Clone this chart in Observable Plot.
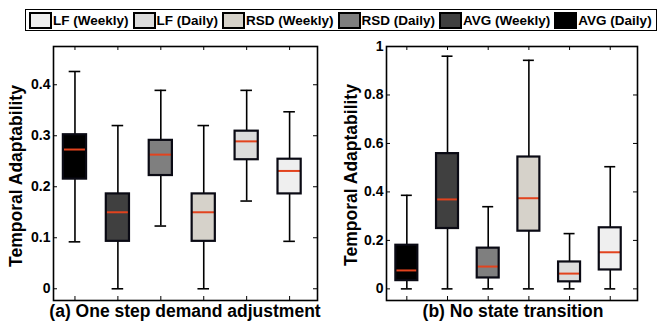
<!DOCTYPE html>
<html>
<head>
<meta charset="utf-8">
<script src="https://cdn.jsdelivr.net/npm/d3@7"></script>
<script src="https://cdn.jsdelivr.net/npm/@observablehq/plot@0.6"></script>
<style>
  html, body { margin: 0; padding: 0; background: #fff; }
  body { width: 658px; height: 324px; position: relative; overflow: hidden;
         font-family: "Liberation Sans", Arial, sans-serif; font-weight: bold; color: #000; }
  .abs { position: absolute; }
  #legend { left: 25px; top: 9px; width: 627px; height: 20px; border: 1.5px solid #000;
            display: flex; align-items: center; padding-left: 3px; background: #fff; box-sizing: content-box; }
  .sw { width: 19px; height: 13px; border: 2px solid #000; margin-right: 1px; }
  .lt { font-size: 13.5px; margin-right: 4px; white-space: nowrap; }
  .ylab { font-size: 17.5px; white-space: nowrap; transform: translate(-50%, -50%) rotate(-90deg); line-height: 1; }
  .sub { font-size: 17.5px; white-space: nowrap; transform: translateX(-50%); line-height: 1; }
</style>
</head>
<body>
<div id="legend" class="abs"></div>
<div id="left" class="abs" style="left:0;top:0"></div>
<div id="right" class="abs" style="left:330px;top:0"></div>
<script>
// ---- data ----
const legendLabels = ["LF (Weekly)", "LF (Daily)", "RSD (Weekly)", "RSD (Daily)", "AVG (Weekly)", "AVG (Daily)"];
const legendColors = ["#efefef", "#dcdcdc", "#d6d2ca", "#7f7f7f", "#404040", "#000000"];
const groups = ["AVG (Daily)", "AVG (Weekly)", "RSD (Daily)", "RSD (Weekly)", "LF (Daily)", "LF (Weekly)"];

// (a) One step demand adjustment
const aLo  = [0.092, 0.000, 0.123, 0.000, 0.172, 0.093];
const aQ1  = [0.215, 0.093, 0.222, 0.093, 0.253, 0.186];
const aMed = [0.273, 0.150, 0.263, 0.150, 0.289, 0.231];
const aQ3  = [0.302, 0.186, 0.291, 0.186, 0.309, 0.254];
const aHi  = [0.426, 0.320, 0.389, 0.320, 0.389, 0.347];
const aTicks = [0, 0.1, 0.2, 0.3, 0.4];

// (b) No state transition
const bLo  = [0, 0, 0, 0, 0, 0];
const bQ1  = [0.034, 0.249, 0.045, 0.238, 0.029, 0.078];
const bMed = [0.076, 0.369, 0.092, 0.374, 0.063, 0.151];
const bQ3  = [0.180, 0.558, 0.168, 0.544, 0.111, 0.252];
const bHi  = [0.386, 0.960, 0.339, 0.943, 0.228, 0.504];
const bTicks = [0, 0.2, 0.4, 0.6, 0.8, 1];

const yLabel = "Temporal Adaptability";
const titles = ["(a) One step demand adjustment", "(b) No state transition"];

// ---- legend ----
const leg = document.getElementById("legend");
legendLabels.forEach((l, i) => {
  const s = document.createElement("div"); s.className = "sw"; s.style.background = legendColors[i];
  const t = document.createElement("div"); t.className = "lt"; t.textContent = l;
  leg.appendChild(s); leg.appendChild(t);
});

const colorOf = g => legendColors[legendLabels.indexOf(g)];

function panel({lo, q1, med, q3, hi, ticks, yDomain, xDomain, width, mLeft, mRight}) {
  const rows = groups.map((g, i) => ({g, pos: i + 1, lo: lo[i], q1: q1[i], med: med[i], q3: q3[i], hi: hi[i]}));
  const height = 324, mTop = 46, mBottom = 24;
  const iw = width - mLeft - mRight, ih = height - mTop - mBottom;
  const bw = 0.27, cw = 0.135, tk = 4;
  return Plot.plot({
    width, height, marginTop: mTop, marginBottom: mBottom, marginLeft: mLeft, marginRight: mRight,
    style: {fontFamily: "Liberation Sans, Arial, sans-serif", fontWeight: "bold", fontSize: "14px", color: "#000", background: "transparent", overflow: "visible"},
    x: {domain: xDomain, axis: null},
    y: {domain: yDomain, axis: null},
    marks: [
      // whiskers
      Plot.ruleX(rows, {x: "pos", y1: "lo", y2: "hi", stroke: "#000", strokeWidth: 1.6}),
      Plot.ruleY(rows, {y: "hi", x1: d => d.pos - cw, x2: d => d.pos + cw, stroke: "#000", strokeWidth: 1.6}),
      Plot.ruleY(rows, {y: "lo", x1: d => d.pos - cw, x2: d => d.pos + cw, stroke: "#000", strokeWidth: 1.6}),
      // boxes
      Plot.rect(rows, {x1: d => d.pos - bw, x2: d => d.pos + bw, y1: "q1", y2: "q3", fill: d => colorOf(d.g)}),
      Plot.ruleY(rows, {y: "med", x1: d => d.pos - bw, x2: d => d.pos + bw, stroke: "#e2431e", strokeWidth: 2}),
      Plot.rect(rows, {x1: d => d.pos - bw, x2: d => d.pos + bw, y1: "q1", y2: "q3", fill: "none", stroke: "#0a0a14", strokeWidth: 2.2}),
      // inward ticks
      Plot.ruleY(ticks, {y: d => d, insetRight: iw - tk, stroke: "#000", strokeWidth: 1}),
      Plot.ruleY(ticks, {y: d => d, insetLeft: iw - tk, stroke: "#000", strokeWidth: 1}),
      Plot.ruleX(rows, {x: "pos", insetBottom: ih - tk, stroke: "#000", strokeWidth: 1}),
      Plot.ruleX(rows, {x: "pos", insetTop: ih - tk, stroke: "#000", strokeWidth: 1}),
      Plot.axisY({ticks, tickSize: 0, tickPadding: 3, tickFormat: d => String(d), fontSize: 14, fontWeight: "bold"}),
      Plot.frame({stroke: "#000", strokeWidth: 1.6})
    ]
  });
}

const left = panel({lo: aLo, q1: aQ1, med: aMed, q3: aQ3, hi: aHi, ticks: aTicks,
  yDomain: [-0.023, 0.475], xDomain: [0.5, 6.65], width: 330, mLeft: 53, mRight: 13});
document.getElementById("left").appendChild(left);

const right = panel({lo: bLo, q1: bQ1, med: bMed, q3: bQ3, hi: bHi, ticks: bTicks,
  yDomain: [-0.048, 1.0], xDomain: [0.5, 6.67], width: 328, mLeft: 56, mRight: 21});
document.getElementById("right").appendChild(right);

// axis labels and titles
function addText(cls, text, x, y) {
  const d = document.createElement("div"); d.className = "abs " + cls; d.textContent = text;
  d.style.left = x + "px"; d.style.top = y + "px"; document.body.appendChild(d);
}
addText("ylab", yLabel, 17, 176);
addText("ylab", yLabel, 352, 175);
addText("sub", titles[0], 185, 303);
addText("sub", titles[1], 513, 303);
</script>
</body>
</html>
